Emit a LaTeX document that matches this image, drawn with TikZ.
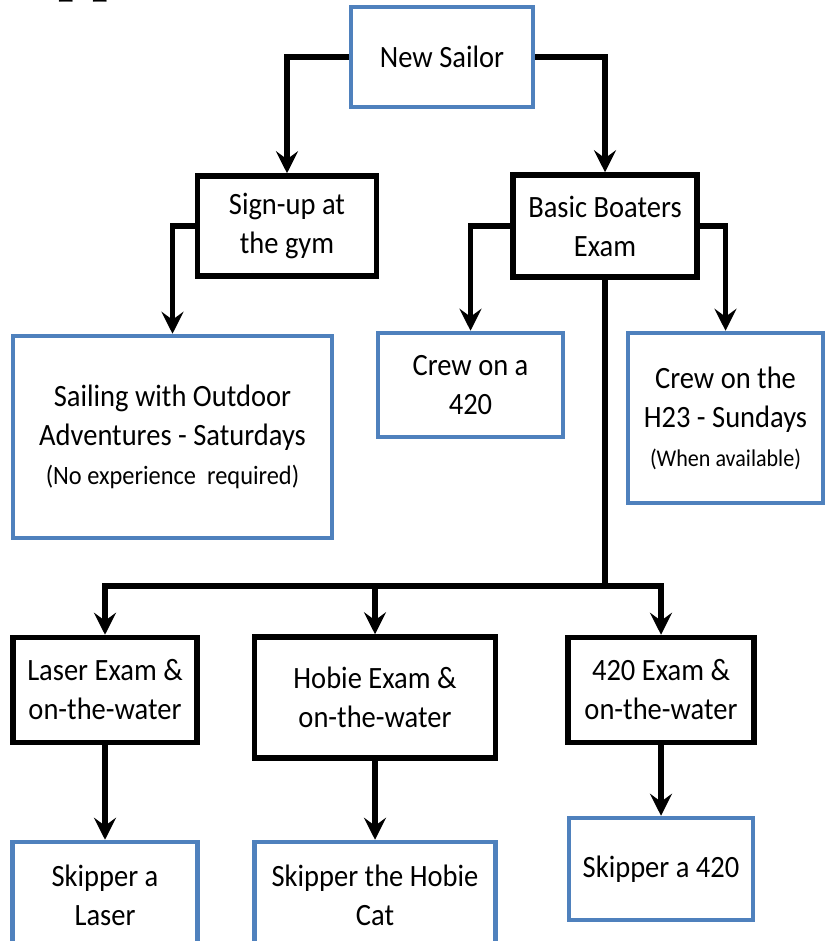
\documentclass[tikz,border=0pt]{standalone}
\usepackage{fontspec}
\newfontfamily\boxfont[FakeStretch=0.92]{Carlito}
\usetikzlibrary{positioning,arrows.meta}

\definecolor{boxblue}{RGB}{79,129,189}
\tikzset{
  box/.style={align=center, inner sep=2pt, font=\boxfont\fontsize{31}{39}\selectfont},
  bluebox/.style={box, draw=boxblue, line width=4.5pt},
  blackbox/.style={box, draw=black, line width=5.5pt},
  link/.style={line width=5.5pt, -{Stealth[length=22pt,width=22pt,inset=8pt]}},
  plain/.style={line width=5.5pt},
}
\newcommand{\smalltext}[2][24]{{\fontsize{#1}{30}\selectfont #2}}

\begin{document}
\begin{tikzpicture}[x=1pt, y=-1pt]
\useasboundingbox (0,0) rectangle (825,941);

\def\xa{105}
\def\xb{287}
\def\xc{375}
\def\xd{442}
\def\xe{605}
\def\xf{661}

\def\ya{57}
\def\yb{226}
\def\yc{586}
\def\yd{690}

% cut-off heading at the top
\node[anchor=base west, inner sep=0, font=\bfseries\fontsize{55}{55}\selectfont] (title) at (57,-8) {pp};

\node[bluebox, minimum width=182pt, minimum height=100pt] (sailor) at (\xd, \ya) {New Sailor};
\node[blackbox, minimum width=179pt, minimum height=100pt] (signup) at (\xb, \yb) {Sign-up at\\ the gym};
\node[blackbox, minimum width=184pt, minimum height=102pt] (basic) at (\xe, \yb) {Basic Boaters\\ Exam};

\node[bluebox, minimum width=319pt, minimum height=202pt] (sailing) at (172.5, 437) {Sailing with Outdoor\\ Adventures - Saturdays\\ \smalltext[26.5]{(No experience\ \ required)}};
\node[bluebox, minimum width=185pt, minimum height=104pt] (crew) at (470.5, 385) {Crew on a\\ 420};
\node[bluebox, minimum width=195pt, minimum height=170pt] (crewh) at (725.5, 418) {Crew on the\\ H23 - Sundays\\ \smalltext{(When available)}};

\node[blackbox, minimum width=184pt, minimum height=105pt] (laser) at (\xa, \yd) {Laser Exam \&\\ on-the-water};
\node[blackbox, minimum width=241pt, minimum height=121pt] (hobie) at (\xc, 697.5) {Hobie Exam \&\\ on-the-water};
\node[blackbox, minimum width=186pt, minimum height=105pt] (exam) at (\xf, \yd) {420 Exam \&\\ on-the-water};

\node[bluebox, minimum width=185pt, minimum height=106pt] (skiplaser) at (\xa, 895) {Skipper a\\ Laser};
\node[bluebox, minimum width=241pt, minimum height=106pt] (skiphobie) at (\xc, 895) {Skipper the Hobie\\ Cat};
\node[bluebox, minimum width=184pt, minimum height=102pt] (skipexam) at (\xf, 869) {Skipper a 420};

\coordinate (j) at (\xe, \yc);

\draw[link] (sailor.west) -| (signup.north);
\draw[link] (sailor.east) -| (basic.north);
\draw[link] (signup.west) -| (sailing.north);
\draw[link] (basic.west) -| (crew.north);
\draw[link] (basic.east) -| (crewh.north);

\draw[plain] (basic.south) -- (j);
\draw[link] (j) -| (laser.north);
\draw[link] (j) -| (exam.north);
\draw[link] (hobie.north |- j) -- (hobie.north);

\draw[link] (laser.south) -- (skiplaser.north);
\draw[link] (hobie.south) -- (skiphobie.north);
\draw[link] (exam.south) -- (skipexam.north);
\end{tikzpicture}
\end{document}
